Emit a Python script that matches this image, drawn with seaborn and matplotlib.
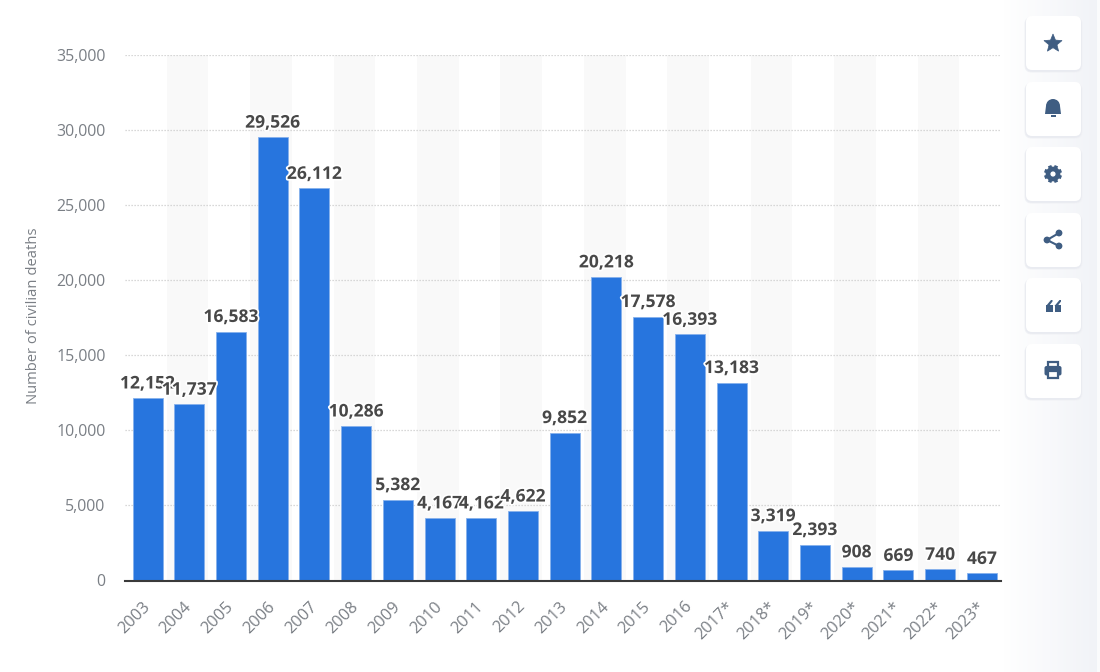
import numpy as np
import pandas as pd
import matplotlib
matplotlib.use("Agg")
import matplotlib.pyplot as plt
import matplotlib.patheffects as pe
from matplotlib.patches import FancyBboxPatch, Circle, Rectangle, Polygon, Wedge
from matplotlib.transforms import ScaledTranslation
import seaborn as sns

years = ["2003", "2004", "2005", "2006", "2007", "2008", "2009", "2010", "2011", "2012", "2013",
         "2014", "2015", "2016", "2017*", "2018*", "2019*", "2020*", "2021*", "2022*", "2023*"]
deaths = [12152, 11737, 16583, 29526, 26112, 10286, 5382, 4167, 4162, 4622, 9852,
          20218, 17578, 16393, 13183, 3319, 2393, 908, 669, 740, 467]
y_ticks = [0, 5000, 10000, 15000, 20000, 25000, 30000, 35000]
y_title = "Number of civilian deaths"

W, H = 1100, 672
sns.set_theme(style="white")
plt.rcParams["font.family"] = ["Open Sans", "DejaVu Sans"]

fig = plt.figure(figsize=(W / 100, H / 100), dpi=100, facecolor="white")
ax = fig.add_axes([125 / W, 1 - 580.5 / H, 876 / W, 525.5 / H])
ax.set_facecolor("none")

df = pd.DataFrame({"year": years, "deaths": deaths})
sns.barplot(data=df, x="year", y="deaths", color="#2775de", saturation=1, width=0.72,
            edgecolor="#86b1ec", linewidth=0.6, ax=ax, zorder=3)

ax.set_xlim(-0.54, len(years) - 0.54)
ax.set_ylim(0, 35000)
for i in range(1, len(years), 2):
    ax.axvspan(i - 0.54, i + 0.46, color="#f9f9f9", lw=0, zorder=0)

ax.set_yticks(y_ticks)
ax.set_yticklabels([f"{v:,}" for v in y_ticks])
ax.grid(axis="y", color="#cccccc", linestyle=(0, (1, 1.4)), linewidth=0.9, zorder=1)
ax.grid(axis="x", visible=False)
ax.set_axisbelow(True)
for s in ["top", "right", "left"]:
    ax.spines[s].set_visible(False)
ax.spines["bottom"].set_color("#3a3a3a")
ax.spines["bottom"].set_linewidth(1.5)
ax.spines["bottom"].set_zorder(5)
ax.tick_params(axis="y", length=0, pad=14, labelsize=11.4, labelcolor="#7a7f85")
ax.tick_params(axis="x", length=0, pad=13, labelsize=11.8, labelcolor="#7a7f85")
shift = ScaledTranslation(-5.5 / 100, 0, fig.dpi_scale_trans)
for lab in ax.get_xticklabels():
    lab.set_rotation(45)
    lab.set_ha("right")
    lab.set_rotation_mode("anchor")
    lab.set_transform(lab.get_transform() + shift)
ax.set_xlabel("")
ax.set_ylabel("")
fig.text(34 / W, 1 - 316 / H, y_title, rotation=90, ha="center", va="center",
         fontsize=10.6, color="#7a7f85")

for i, v in enumerate(deaths):
    ax.annotate(f"{v:,}", (i, v), xytext=(0, 4), textcoords="offset points", ha="center", va="bottom",
                fontsize=12.6, fontweight="bold", color="#484848", zorder=6 + i,
                path_effects=[pe.withStroke(linewidth=2.5, foreground="white")])

# side toolbar, drawn in pixel coordinates
ov = fig.add_axes([0, 0, 1, 1], zorder=-1)
ov.axis("off")
ramp = np.linspace(0, 1, 94)[None, :, None]
grad = (1 - ramp) * np.array([1.0, 1.0, 1.0]) + ramp * np.array([0.945, 0.953, 0.97])
ov.imshow(grad, extent=[1003, 1097, H, 0], aspect="auto", zorder=0)
ov.add_patch(Rectangle((1097, 0), 3, H, color="#fafbfc", lw=0, zorder=0))
ov.set_xlim(0, W)
ov.set_ylim(H, 0)

icon = "#3f5d82"
tops = [16, 82, 147, 213, 278, 344]
for top in tops:
    for grow, col in [(3, "#f0f1f5"), (1.5, "#e9ebf1")]:
        ov.add_patch(FancyBboxPatch((1026 - grow / 2, top + 1), 55 + grow, 54 + grow / 2,
                                    boxstyle="round,pad=0,rounding_size=7", fc=col, ec="none", zorder=1))
    ov.add_patch(FancyBboxPatch((1026, top), 55, 54, boxstyle="round,pad=0,rounding_size=6",
                                fc="white", ec="none", zorder=2))

# star
ang = np.deg2rad(-90 + 36 * np.arange(10))
rad = np.where(np.arange(10) % 2 == 0, 9.5, 4.2)
ov.add_patch(Polygon(np.c_[1053 + rad * np.cos(ang), 43.5 + rad * np.sin(ang)], fc=icon, ec=icon, lw=0.5, zorder=3))
# bell
ov.add_patch(Wedge((1053, 106), 7, 180, 360, fc=icon, lw=0, zorder=3))
ov.add_patch(Polygon([(1046, 106), (1060, 106), (1061, 114), (1045, 114)], fc=icon, lw=0, zorder=3))
ov.add_patch(Rectangle((1050.5, 115), 5, 1.8, fc=icon, lw=0, zorder=3))
# gear
ov.add_patch(Circle((1053, 174), 5, fc="none", ec=icon, lw=3.4, zorder=3))
for a in np.deg2rad(np.arange(0, 360, 45) + 22.5):
    ov.plot([1053 + 6 * np.cos(a), 1053 + 9 * np.cos(a)], [174 + 6 * np.sin(a), 174 + 9 * np.sin(a)],
            color=icon, lw=2.6, solid_capstyle="butt", zorder=3)
# share
pts = [(1059, 233), (1047, 240), (1059, 246)]
ov.plot(*zip(*pts), color=icon, lw=1.5, zorder=3)
for p in pts:
    ov.add_patch(Circle(p, 3.4, fc=icon, lw=0, zorder=3))
# quotes
for x0 in (1046, 1054.5):
    ov.add_patch(Rectangle((x0, 305), 6.5, 6.5, fc=icon, lw=0, zorder=3))
    ov.add_patch(Polygon([(x0, 306), (x0 + 5, 300), (x0 + 6.5, 300), (x0 + 6.5, 301.5), (x0 + 3, 306)], fc=icon, lw=0, zorder=3))
# printer
ov.add_patch(FancyBboxPatch((1044.5, 366), 17, 9.5, boxstyle="round,pad=0,rounding_size=2", fc=icon, lw=0, zorder=3))
ov.add_patch(Rectangle((1048, 362), 10, 5, fc="white", ec=icon, lw=1.6, zorder=3))
ov.add_patch(Rectangle((1048, 371), 10, 7, fc="white", ec=icon, lw=1.6, zorder=3))

fig.savefig("out.png", dpi=100, facecolor="white")
